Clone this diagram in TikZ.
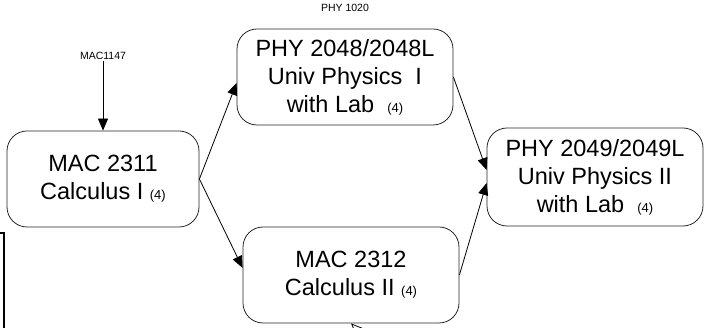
\documentclass[tikz,border=0pt]{standalone}
\usepackage{fontspec}
\setmainfont{Liberation Sans}
\usetikzlibrary{arrows.meta,calc}
\tikzset{
  course/.style={draw=black!85, line width=0.8pt, rounded corners=20pt, minimum width=#1, minimum height=96pt, inner sep=0pt, align=center, font=\fontsize{23.5}{28}\selectfont},
  conn/.style={draw=black, line width=0.8pt, -{Triangle[length=12pt,width=10pt]}},
  openconn/.style={draw=black, line width=0.8pt, -{Triangle[open,length=12pt,width=10pt,fill=white]}},
  lbl/.style={inner sep=1pt, font=\fontsize{10.5}{12}\selectfont},
}
\newcommand{\credits}{{\fontsize{13}{13}\selectfont(4)}}
\begin{document}
\begin{tikzpicture}[x=1pt,y=-1pt]
\useasboundingbox (0,0) rectangle (710,328);
\node[course=192pt] (m2311) at (103,179) {MAC 2311\\Calculus I \credits};
\node[course=216pt] (p2048) at (345,77) {PHY 2048/2048L\\Univ Physics\ \ I\\with Lab\ \ \credits};
\node[course=216pt] (m2312) at (351,275) {MAC 2312\\Calculus II \credits};
\node[course=216pt, minimum height=98pt] (p2049) at (595,177) {PHY 2049/2049L\\Univ Physics II\\with Lab\ \ \credits};
\node[lbl] (l1147) at (103,56) {MAC1147};
\node[lbl] (l1020) at (345,8) {PHY 1020};
\coordinate (free) at (378,350);
\draw[conn] (l1147.south) -- (m2311.north);
\draw[conn] (m2311.east) -- ($(p2048.west)+(0,6)$);
\draw[conn] (m2311.east) -- ($(m2312.west)+(0,-7)$);
\draw[conn] (p2048.east) -- ($(p2049.west)+(0,-7)$);
\draw[conn] (m2312.east) -- ($(p2049.west)+(0,6)$);
\draw[openconn] (free) -- (m2312.south);
\draw[line width=2pt] (-2,233) -- (4,233) -- (4,330);
\end{tikzpicture}
\end{document}
